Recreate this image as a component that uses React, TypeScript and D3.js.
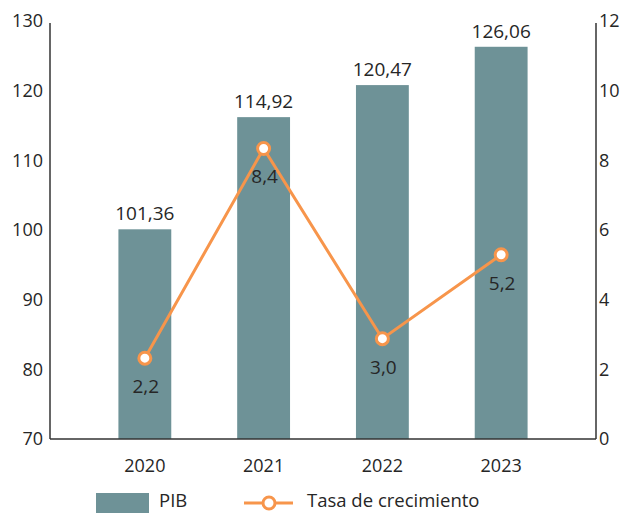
import React from "react";
import * as d3 from "d3";

const years = ["2020", "2021", "2022", "2023"];
// PIB labels and plotted bar heights
const pibLabels = [101.36, 114.92, 120.47, 126.06];
const pibBars = [100.1, 116.2, 120.8, 126.3];
// Growth rate labels and plotted point positions
const growthLabels = [2.2, 8.4, 3.0, 5.2];
const growthPoints = [2.32, 8.34, 2.88, 5.29];
const leftTicks = [70, 80, 90, 100, 110, 120, 130];
const rightTicks = [0, 2, 4, 6, 8, 10, 12];

const W = 626;
const H = 513;
const left = 50;
const right = 596;
const top = 21;
const bottom = 439;
const BAR = "#6E9297";
const ORANGE = "#F7954B";
const TEXT = "#262626";
const FONT = "'Open Sans', 'Noto Sans', sans-serif";

const fmt = (v: number, d: number) => v.toFixed(d).replace(".", ",");

export default function App() {
  const x = d3
    .scaleBand<string>()
    .domain(years)
    .range([left, right])
    .paddingInner(0.555)
    .paddingOuter(0.576);
  const yL = d3.scaleLinear().domain([70, 130]).range([bottom, top]);
  const yR = d3.scaleLinear().domain([0, 12]).range([bottom, top]);
  const cx = (y: string) => (x(y) as number) + x.bandwidth() / 2;

  const line = d3
    .line<number>()
    .x((_, i) => cx(years[i]))
    .y((d) => yR(d));

  return (
    <svg
      width={W}
      height={H}
      style={{ position: "absolute", left: 0, top: 0, background: "#fff" }}
      fontFamily={FONT}
    >
      {/* bars */}
      {years.map((yr, i) => (
        <rect
          key={yr}
          x={x(yr)}
          y={yL(pibBars[i])}
          width={x.bandwidth()}
          height={bottom - yL(pibBars[i])}
          fill={BAR}
        />
      ))}
      {/* bar labels */}
      {years.map((yr, i) => (
        <text
          key={"bl" + yr}
          x={cx(yr)}
          y={yL(pibBars[i]) - 9}
          textAnchor="middle"
          fontSize={19}
          fill={TEXT}
        >
          {fmt(pibLabels[i], 2)}
        </text>
      ))}
      {/* axes */}
      <line x1={left} x2={left} y1={top + 2} y2={bottom} stroke="#333" strokeWidth={1.5} />
      <line x1={right} x2={right} y1={top + 2} y2={bottom} stroke="#333" strokeWidth={1.5} />
      <line x1={left} x2={right} y1={bottom} y2={bottom} stroke="#333" strokeWidth={1.5} />
      {leftTicks.map((t) => (
        <text
          key={"l" + t}
          x={left - 7}
          y={yL(t)}
          dy="0.35em"
          textAnchor="end"
          fontSize={18}
          fill={TEXT}
        >
          {t}
        </text>
      ))}
      {rightTicks.map((t) => (
        <text
          key={"r" + t}
          x={right + 3}
          y={yR(t)}
          dy="0.35em"
          textAnchor="start"
          fontSize={18}
          fill={TEXT}
        >
          {t}
        </text>
      ))}
      {years.map((yr) => (
        <text key={"x" + yr} x={cx(yr)} y={472} textAnchor="middle" fontSize={18} fill={TEXT}>
          {yr}
        </text>
      ))}
      {/* line */}
      <path d={line(growthPoints) || ""} fill="none" stroke={ORANGE} strokeWidth={3} />
      {years.map((yr, i) => (
        <circle
          key={"c" + yr}
          cx={cx(yr)}
          cy={yR(growthPoints[i])}
          r={6}
          fill="#fff"
          stroke={ORANGE}
          strokeWidth={3}
        />
      ))}
      {years.map((yr, i) => (
        <text
          key={"gl" + yr}
          x={cx(yr) + 1}
          y={yR(growthPoints[i]) + 35}
          textAnchor="middle"
          fontSize={19}
          fill={TEXT}
        >
          {fmt(growthLabels[i], 1)}
        </text>
      ))}
      {/* legend */}
      <rect x={96} y={493} width={53} height={20} fill={BAR} />
      <text x={159} y={507} fontSize={18.5} fill={TEXT}>
        PIB
      </text>
      <line x1={244} x2={293} y1={503} y2={503} stroke={ORANGE} strokeWidth={3} />
      <circle cx={269} cy={503} r={6} fill="#fff" stroke={ORANGE} strokeWidth={3} />
      <text x={307} y={507} fontSize={18.5} fill={TEXT}>
        Tasa de crecimiento
      </text>
    </svg>
  );
}
